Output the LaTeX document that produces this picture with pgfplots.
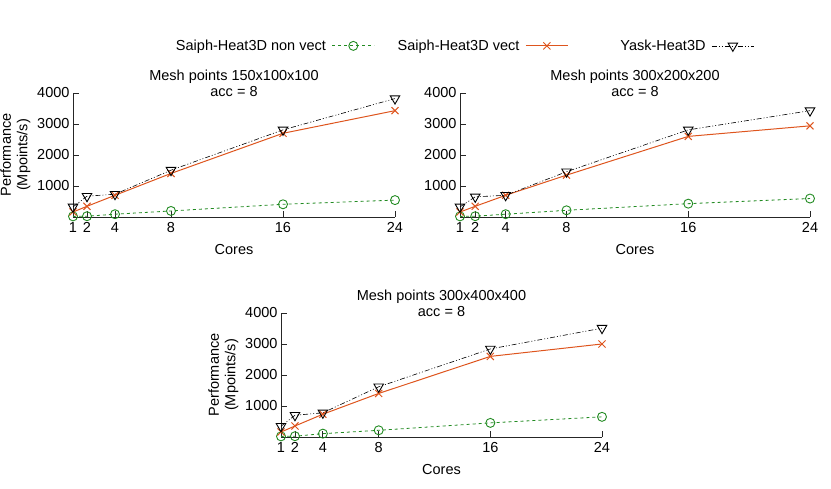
\documentclass[border=0pt]{standalone}
\usepackage{fontspec}
\setmainfont{Liberation Sans}
\usepackage{pgfplots}
\pgfplotsset{compat=1.18}

\definecolor{nvgreen}{RGB}{34,139,34}
\definecolor{vorange}{RGB}{222,85,30}

\pgfplotstableread{
cores nonvect vect yask
1   20   160  325
2   25   345  670
4   90   700  735
8   195  1405 1510
16  410  2700 2810
24  545  3430 3820
}\meshA
\pgfplotstableread{
cores nonvect vect yask
1   20   160  325
2   25   345  650
4   90   700  700
8   216  1350 1460
16  430  2600 2810
24  595  2940 3430
}\meshB
\pgfplotstableread{
cores nonvect vect yask
1   20   160  345
2   25   355  700
4   108  735  780
8   216  1405 1620
16  455  2600 2840
24  650  3000 3510
}\meshC

\pgfplotsset{
  panel/.style={
    scale only axis, height=124pt,
    xmin=1, xmax=24, ymin=0, ymax=4000,
    xtick={1,2,4,8,16,24}, ytick={1000,2000,3000,4000},
    axis x line=bottom, axis y line=left,
    axis line style={-, line width=0.9pt, black!85},
    tick align=inside, major tick length=6pt,
    tick style={line width=0.9pt, black!85},
    y tick label style={/pgf/number format/1000 sep={}},
    x tick label style={yshift=-2pt},
    /pgf/number format/assume math mode=true,
    scaled y ticks=false,
    font=\fontsize{14.5}{16.5}\selectfont,
    xlabel={Cores},
    xlabel style={yshift=-5pt},
    title style={align=center, anchor=south, at={(0.5,1)}, yshift=-10pt, inner sep=0pt},
    ylabel style={align=center},
    clip=false,
    legend image code/.code={
      \draw[mark repeat=2, mark phase=2] plot coordinates {(0pt,0pt) (21pt,0pt) (42pt,0pt)};
    },
  },
  nv/.style={nvgreen, line width=0.8pt, dash pattern=on 3pt off 3pt, mark=o, mark size=4.5pt, mark options={solid, line width=0.9pt}},
  ve/.style={vorange, line width=1pt, mark=x, mark size=5pt, mark options={solid, line width=1pt}},
  ya/.style={black, line width=0.6pt, dash pattern=on 5pt off 2pt on 1pt off 2pt on 1pt off 2pt, mark=triangle, mark size=5.5pt, mark options={solid, rotate=180, line width=0.9pt, fill=white}},
}

\begin{document}
\begin{tikzpicture}
\useasboundingbox (0pt,0pt) rectangle (831pt,489pt);

\begin{axis}[panel, at={(73pt,272pt)}, anchor=south west, width=322pt,
  title={Mesh points 150x100x100\\acc = 8},
  ylabel={Performance\\(Mpoints/s)},
  legend columns=3, legend plot pos=right,
  legend style={at={(axis description cs:0.313,1.38)}, anchor=west, draw=none, fill=none, inner sep=0pt,
    font=\fontsize{14.5}{16.5}\selectfont,
    /tikz/column 1/.style={column sep=4pt},
    /tikz/column 3/.style={column sep=4pt},
    /tikz/column 5/.style={column sep=4pt},
    /tikz/column 2/.style={column sep=21pt},
    /tikz/column 4/.style={column sep=50pt}},
]
\addplot[nv] table[x=cores, y=nonvect] {\meshA};
\addlegendentry{Saiph-Heat3D non vect}
\addplot[ve] table[x=cores, y=vect] {\meshA};
\addlegendentry{Saiph-Heat3D vect}
\addplot[ya] table[x=cores, y=yask] {\meshA};
\addlegendentry{Yask-Heat3D}
\end{axis}

\begin{axis}[panel, at={(460pt,272pt)}, anchor=south west, width=350pt,
  title={Mesh points 300x200x200\\acc = 8},
]
\addplot[nv] table[x=cores, y=nonvect] {\meshB};
\addplot[ve] table[x=cores, y=vect] {\meshB};
\addplot[ya] table[x=cores, y=yask] {\meshB};
\end{axis}

\begin{axis}[panel, at={(281pt,52pt)}, anchor=south west, width=321pt,
  title={Mesh points 300x400x400\\acc = 8},
  ylabel={Performance\\(Mpoints/s)},
]
\addplot[nv] table[x=cores, y=nonvect] {\meshC};
\addplot[ve] table[x=cores, y=vect] {\meshC};
\addplot[ya] table[x=cores, y=yask] {\meshC};
\end{axis}
\end{tikzpicture}
\end{document}
